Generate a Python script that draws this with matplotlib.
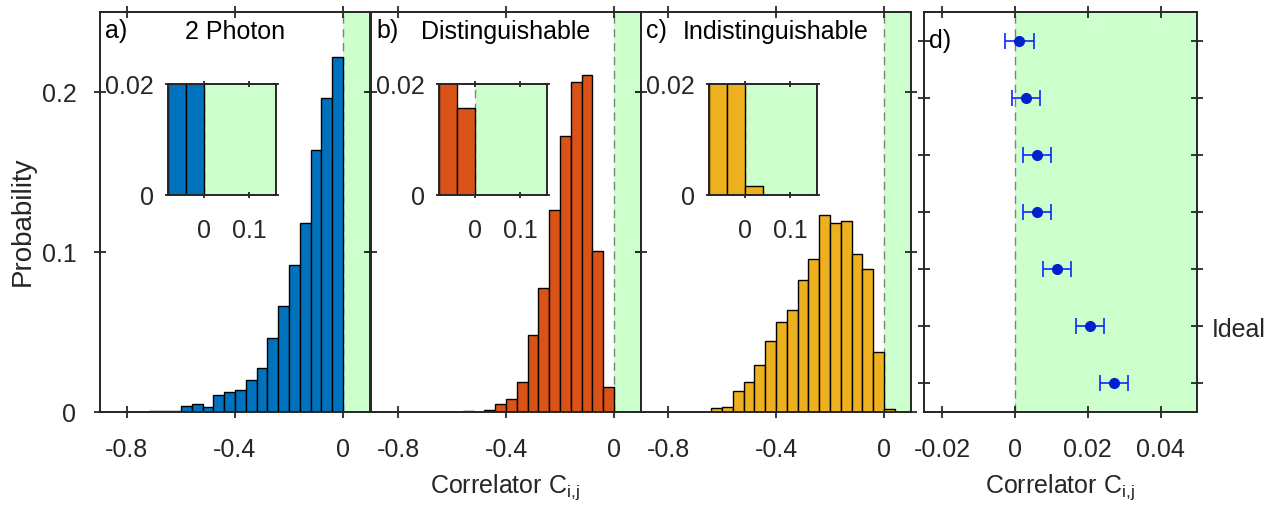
import numpy as np
import matplotlib
matplotlib.use('Agg')
import matplotlib.pyplot as plt

plt.rcParams['font.family'] = ['Liberation Sans', 'DejaVu Sans']
plt.rcParams['mathtext.fontset'] = 'custom'
plt.rcParams['mathtext.rm'] = 'Liberation Sans'

W, H = 1278, 506
FS = 18
TXT = '#262626'

# histogram data (bin width 0.04, bins given by left edge)
bin_w = 0.04
edges_a = [-0.72, -0.68, -0.64, -0.60, -0.56, -0.52, -0.48, -0.44, -0.40,
           -0.36, -0.32, -0.28, -0.24, -0.20, -0.16, -0.12, -0.08, -0.04]
prob_a = [0.0004, 0.0004, 0.0005, 0.0038, 0.0050, 0.0030, 0.0108, 0.0123, 0.0135,
          0.0202, 0.0275, 0.0463, 0.0663, 0.0917, 0.118, 0.164, 0.1965, 0.222]
edges_b = [-0.56, -0.52, -0.48, -0.44, -0.40, -0.36, -0.32,
           -0.28, -0.24, -0.20, -0.16, -0.12, -0.08, -0.04]
prob_b = [0.0005, 0.0, 0.0014, 0.0048, 0.0083, 0.0188, 0.0483,
          0.0775, 0.126, 0.1727, 0.206, 0.2108, 0.1006, 0.0156]
edges_c = [-0.68, -0.64, -0.60, -0.56, -0.52, -0.48, -0.44, -0.40, -0.36,
           -0.32, -0.28, -0.24, -0.20, -0.16, -0.12, -0.08, -0.04, 0.0]
prob_c = [0.0003, 0.0023, 0.0031, 0.0131, 0.0188, 0.0292, 0.0446, 0.0563, 0.064,
          0.0827, 0.0954, 0.1229, 0.1183, 0.1194, 0.099, 0.0892, 0.0375, 0.0017]

titles = ['2 Photon', 'Distinguishable', 'Indistinguishable']
letters = ['a)', 'b)', 'c)']
colors = ['#0072BD', '#D95319', '#EDB120']

# panel d: correlator values with error bars (top to bottom)
corr_d = [0.0012, 0.0030, 0.0060, 0.0060, 0.0115, 0.0206, 0.0272]
err_d = [0.0039, 0.0039, 0.0039, 0.0039, 0.0039, 0.0039, 0.0039]
rows_d = [7, 6, 5, 4, 3, 2, 1]
ideal_row = 2

GREEN = '#ccffcc'


def box(x0, y0, x1, y1):
    return [x0 / W, 1 - y1 / H, (x1 - x0) / W, (y1 - y0) / H]


def style(ax, pad_x, pad_y, length=8):
    ax.tick_params(direction='inout', length=length, width=1.3, top=True, right=True,
                   labelsize=FS, colors=TXT, labelcolor=TXT)
    ax.tick_params(axis='x', pad=pad_x)
    ax.tick_params(axis='y', pad=pad_y)
    for s in ax.spines.values():
        s.set_linewidth(1.4)
        s.set_color(TXT)


fig = plt.figure(figsize=(W / 100, H / 100), dpi=100)

lefts = [100, 371, 641]
data = [(edges_a, prob_a), (edges_b, prob_b), (edges_c, prob_c)]
for i in range(3):
    x0 = lefts[i]
    ax = fig.add_axes(box(x0, 13, x0 + 270, 413))
    e, p = data[i]
    ax.axvspan(0, 0.1, color=GREEN, lw=0, zorder=0)
    ax.axvline(0, color='#808080', ls=(0, (6, 4)), lw=1, zorder=0.5)
    ax.bar(e, p, width=bin_w, align='edge', color=colors[i], edgecolor='k', lw=1, zorder=2)
    ax.set_xlim(-0.9, 0.1)
    ax.set_ylim(0, 0.25)
    ax.set_xticks([-0.8, -0.4, 0])
    ax.set_xticklabels(['-0.8', '-0.4', '0'])
    ax.set_yticks([0, 0.1, 0.2])
    style(ax, 14, 13)
    if i == 0:
        ax.set_yticklabels(['0', '0.1', '0.2'])
    else:
        ax.set_yticklabels([])
    ax.text(0.02, 0.955, letters[i], transform=ax.transAxes, fontsize=FS, va='center', ha='left')
    ax.text(0.5, 0.953, titles[i], transform=ax.transAxes, fontsize=FS,
            va='center', ha='center')

    # inset zoom near zero
    ins = fig.add_axes(box(x0 + 68, 85, x0 + 176, 196))
    ins.axvspan(0, 0.2, color=GREEN, lw=0, zorder=0)
    ins.axvline(0, color='#808080', ls=(0, (6, 4)), lw=1, zorder=0.5)
    ins.bar(e, p, width=bin_w, align='edge', color=colors[i], edgecolor='k', lw=1, zorder=2)
    ins.set_xlim(-0.08, 0.16)
    ins.set_ylim(0, 0.02)
    ins.set_xticks([0, 0.1])
    ins.set_xticklabels(['0', '0.1'])
    ins.set_yticks([0, 0.02])
    ins.set_yticklabels(['0', '0.02'])
    style(ins, 14, 7.5, length=5)

fig.text(23 / W, 1 - 221 / H, 'Probability', fontsize=20, color=TXT, rotation=90,
         ha='center', va='center')

# panel d
axd = fig.add_axes(box(924, 13, 1197, 413))
axd.axvspan(0, 0.05, color=GREEN, lw=0, zorder=0)
axd.axvline(0, color='#808080', ls=(0, (6, 4)), lw=1, zorder=0.5)
axd.errorbar(corr_d, rows_d, xerr=err_d, fmt='o', color='#0a2aff', mfc='#0022cc',
             mec='#0022cc', ms=7, elinewidth=1.2, capsize=5.5, capthick=1.2, zorder=3)
axd.set_xlim(-0.025, 0.05)
axd.set_ylim(0.5, 7.5)
axd.set_xticks([-0.02, 0, 0.02, 0.04])
axd.set_xticklabels(['-0.02', '0', '0.02', '0.04'])
axd.set_yticks(rows_d)
axd.set_yticklabels(['Ideal' if r == ideal_row else '' for r in rows_d])
style(axd, 14, 6.5)
axd.tick_params(axis='y', labelleft=False, labelright=True)
axd.text(0.02, 0.93, 'd)', transform=axd.transAxes, fontsize=FS, va='center', ha='left')

xl = r'Correlator C$_{\mathregular{i{,}j}}$'
fig.text(505 / W, 13 / H, xl, fontsize=FS, color=TXT, ha='center', va='baseline')
fig.text(1060 / W, 13 / H, xl, fontsize=FS, color=TXT, ha='center', va='baseline')

fig.savefig('out.png', dpi=100)
